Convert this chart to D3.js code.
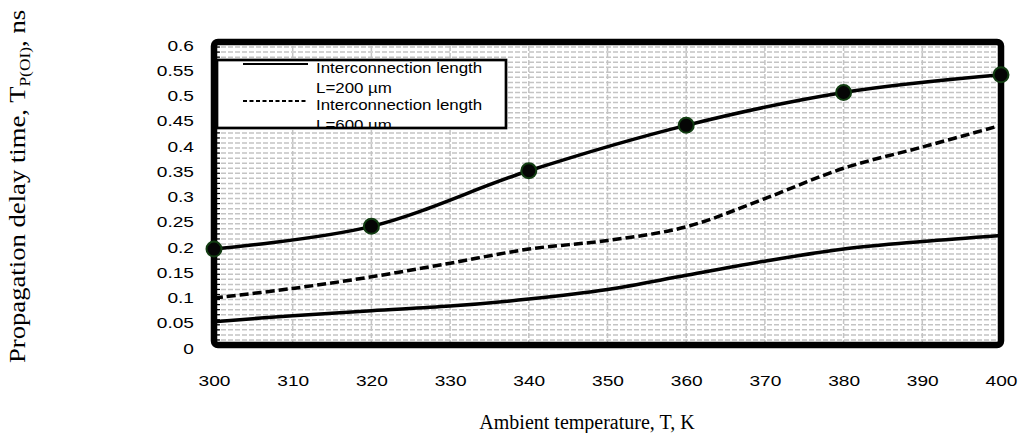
<!DOCTYPE html>
<html>
<head>
<meta charset="utf-8">
<script src="https://cdn.jsdelivr.net/npm/d3@7"></script>
<style>
  body { margin: 0; background: #fff; }
  svg { display: block; }
</style>
</head>
<body>
<div id="chart"></div>
<script>
// data
const temps = [300, 310, 320, 330, 340, 350, 360, 370, 380, 390, 400];
const markerTemps = [300, 320, 340, 360, 380, 400];
const delayMarked = [0.19, 0.235, 0.345, 0.435, 0.5, 0.535];
const delayL600 = [0.093, 0.112, 0.135, 0.162, 0.19, 0.207, 0.234, 0.29, 0.35, 0.392, 0.435];
const delayL200 = [0.046, 0.058, 0.068, 0.077, 0.091, 0.11, 0.138, 0.166, 0.19, 0.205, 0.217];
const yTicks = [0, 0.05, 0.1, 0.15, 0.2, 0.25, 0.3, 0.35, 0.4, 0.45, 0.5, 0.55, 0.6];
const xTicks = [300, 310, 320, 330, 340, 350, 360, 370, 380, 390, 400];
const legendLabels = [['Interconnection length', 'L=200 µm'], ['Interconnection length', 'L=600 µm']];

const W = 1019, H = 433;
const sans = "Arial, 'Liberation Sans', sans-serif";
const serif = "'Times New Roman', 'Liberation Serif', serif";
const stretch = 1.32;   // tick text in the picture is drawn wide

const svg = d3.select('#chart').append('svg').attr('width', W).attr('height', H);

const x = d3.scaleLinear().domain([300, 400]).range([214, 1001]);
const y = d3.scaleLinear().domain([0, 0.6]).range([345, 42]);

// grid
const grid = svg.append('g');
grid.selectAll('line.h')
    .data(d3.range(1, 60).map(i => i / 100))
    .join('line')
    .attr('x1', x(300)).attr('x2', x(400))
    .attr('y1', d => y(d)).attr('y2', d => y(d))
    .attr('stroke', '#c4c4c4').attr('stroke-width', 1.5)
    .attr('stroke-dasharray', '5,2');
grid.selectAll('line.v')
    .data(xTicks.slice(1, -1))
    .join('line')
    .attr('x1', d => x(d)).attr('x2', d => x(d))
    .attr('y1', y(0)).attr('y2', y(0.6))
    .attr('stroke', '#c4c4c4').attr('stroke-width', 1.5)
    .attr('stroke-dasharray', '5,2');

// little inner ticks on left edge
grid.selectAll('line.t')
    .data(d3.range(1, 60).map(i => i / 100))
    .join('line')
    .attr('x1', x(300)).attr('x2', x(300) + 6)
    .attr('y1', d => y(d)).attr('y2', d => y(d))
    .attr('stroke', '#000').attr('stroke-width', 1.2);

// curves
const line = d3.line().x(d => x(d[0])).y(d => y(d[1])).curve(d3.curveCatmullRom.alpha(0.5));

svg.append('path')
    .attr('d', line(temps.map((t, i) => [t, delayL200[i]])))
    .attr('fill', 'none').attr('stroke', '#000').attr('stroke-width', 3.5);
svg.append('path')
    .attr('d', line(temps.map((t, i) => [t, delayL600[i]])))
    .attr('fill', 'none').attr('stroke', '#000').attr('stroke-width', 3.5)
    .attr('stroke-dasharray', '9,4');
svg.append('path')
    .attr('d', line(markerTemps.map((t, i) => [t, delayMarked[i]])))
    .attr('fill', 'none').attr('stroke', '#000').attr('stroke-width', 3.5);

// frame
svg.append('rect')
    .attr('x', x(300)).attr('y', y(0.6))
    .attr('width', x(400) - x(300)).attr('height', y(0) - y(0.6))
    .attr('rx', 4)
    .attr('fill', 'none').attr('stroke', '#000').attr('stroke-width', 6.5);

svg.selectAll('circle.m')
    .data(markerTemps.map((t, i) => [t, delayMarked[i]]))
    .join('circle')
    .attr('cx', d => x(d[0])).attr('cy', d => y(d[1]))
    .attr('r', 7.5)
    .attr('fill', '#050505').attr('stroke', '#123d12').attr('stroke-width', 2);

// axes (labels only)
const yAxis = svg.append('g')
    .attr('transform', `translate(${x(300)},0)`)
    .call(d3.axisLeft(y).tickValues(yTicks).tickSize(0).tickFormat(d => d3.format('')(+d.toFixed(2))));
yAxis.select('.domain').remove();
yAxis.selectAll('text')
    .attr('x', -20 / stretch).attr('y', 3.5)
    .attr('transform', `scale(${stretch},1)`)
    .style('font-family', sans).style('font-size', '14.5px').attr('fill', '#000');

const xAxis = svg.append('g')
    .attr('transform', `translate(0,${y(0)})`)
    .call(d3.axisBottom(x).tickValues(xTicks).tickSize(0));
xAxis.select('.domain').remove();
xAxis.selectAll('text')
    .attr('y', 30.5)
    .attr('transform', `scale(${stretch},1)`)
    .style('font-family', sans).style('font-size', '14.5px').attr('fill', '#000');

// axis titles
svg.append('text')
    .attr('x', 587).attr('y', 429)
    .attr('text-anchor', 'middle')
    .style('font-family', serif).style('font-size', '20px')
    .text('Ambient temperature, T, K');

const yTitle = svg.append('text')
    .attr('transform', 'translate(25,363) rotate(-90) scale(1.16,1)')
    .style('font-family', serif).style('font-size', '23px');
yTitle.append('tspan').text('Propagation delay time, T');
yTitle.append('tspan').attr('dy', 5).style('font-size', '15px').text('P(OI)');
yTitle.append('tspan').attr('dy', -5).text(', ns');

// legend
const lg = svg.append('g');
const lgBox = { x: 217, y: 60, w: 289, h: 68 };
lg.append('clipPath').attr('id', 'lgclip')
    .append('rect').attr('x', lgBox.x).attr('y', lgBox.y).attr('width', lgBox.w).attr('height', lgBox.h);
lg.append('rect')
    .attr('x', lgBox.x).attr('y', lgBox.y).attr('width', lgBox.w).attr('height', lgBox.h)
    .attr('fill', '#fff');
const entries = lg.append('g').attr('clip-path', 'url(#lgclip)');
const entryY = [64, 101];
legendLabels.forEach((lab, i) => {
    entries.append('line')
        .attr('x1', 243).attr('x2', 308)
        .attr('y1', entryY[i]).attr('y2', entryY[i])
        .attr('stroke', '#000').attr('stroke-width', 2)
        .attr('stroke-dasharray', i === 1 ? '4,2.5' : null);
    const t = entries.append('text')
        .attr('transform', `translate(316,${entryY[i] + 8.5}) scale(1.19,1)`)
        .style('font-family', sans).style('font-size', '14.2px');
    t.append('tspan').attr('x', 0).text(lab[0]);
    t.append('tspan').attr('x', 0).attr('dy', 21).text(lab[1]);
});
lg.append('rect')
    .attr('x', lgBox.x).attr('y', lgBox.y).attr('width', lgBox.w).attr('height', lgBox.h)
    .attr('fill', 'none').attr('stroke', '#000').attr('stroke-width', 2.7);
</script>
</body>
</html>
